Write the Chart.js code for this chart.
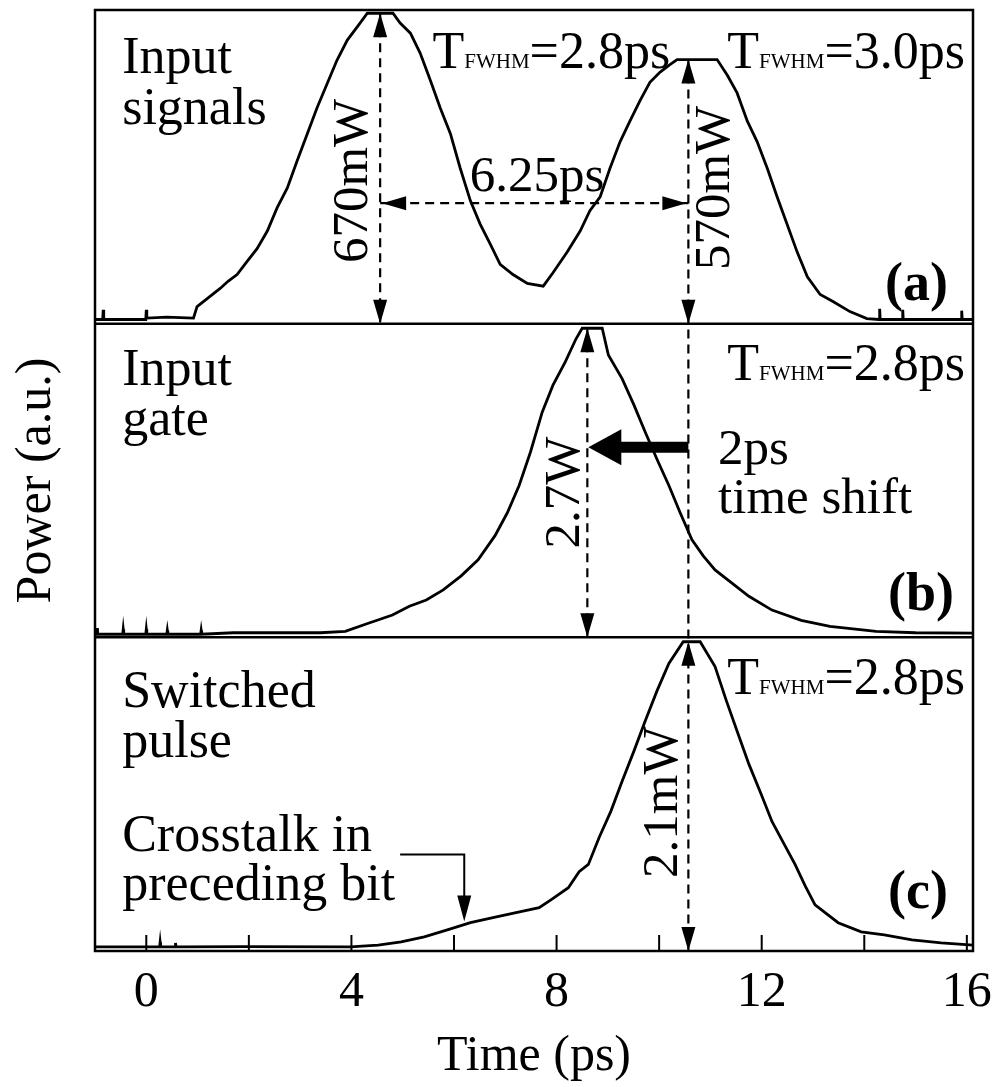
<!DOCTYPE html>
<html>
<head>
<meta charset="utf-8">
<script src="https://cdn.jsdelivr.net/npm/chart.js@4.4.0/dist/chart.umd.min.js"></script>
<style>
  html, body { margin: 0; padding: 0; background: #fff; }
  canvas { display: block; }
</style>
</head>
<body>
<canvas id="c" width="997" height="1087"></canvas>
<script>
// ---- data (time in ps, power per panel) ----
const timeA = [-1.0, -0.85, -0.84, -0.83, -0.01, 0.0, 0.01, 0.4, 0.92, 0.99, 1.2, 1.44, 1.6, 1.77, 1.97, 2.16, 2.36, 2.55, 2.75, 2.94, 3.14, 3.33, 3.53, 3.72, 3.92, 4.11, 4.31, 4.81, 4.95, 5.15, 5.34, 5.54, 5.73, 5.93, 6.12, 6.32, 6.51, 6.71, 6.90, 7.15, 7.43, 7.74, 7.93, 8.21, 8.46, 8.65, 8.85, 9.04, 9.24, 9.43, 9.63, 9.82, 10.02, 10.21, 10.35, 11.13, 11.33, 11.52, 11.72, 11.91, 12.11, 12.30, 12.50, 12.69, 12.89, 13.14, 13.39, 13.72, 14.05, 14.29, 14.3, 14.31, 14.74, 14.75, 14.76, 15.89, 15.9, 15.91, 16.12];
const powerA = [9, 9, 30, 9, 9, 30, 12, 14, 12, 37, 55, 76, 92, 106, 135, 162, 200, 250, 293, 351, 410, 466, 519, 569, 612, 640, 670, 670, 649, 627, 584, 525, 466, 410, 336, 265, 215, 171, 128, 106, 87, 81, 110, 155, 200, 244, 274, 335, 393, 437, 482, 521, 543, 559, 570, 570, 536, 498, 437, 393, 335, 274, 213, 155, 101, 63, 48, 26, 11, 9, 32, 9, 9, 30, 9, 9, 28, 9, 9];

const timeB = [-1.0, -0.97, -0.96, -0.95, -0.46, -0.45, -0.44, -0.01, 0.0, 0.01, 0.40, 0.41, 0.42, 1.06, 1.07, 1.08, 1.7, 3.4, 3.88, 4.33, 4.80, 5.13, 5.46, 5.79, 6.14, 6.47, 6.80, 7.04, 7.27, 7.49, 7.72, 7.93, 8.17, 8.38, 8.50, 8.89, 9.01, 9.28, 9.51, 9.73, 9.96, 10.19, 10.41, 10.64, 10.86, 11.09, 11.42, 11.75, 12.20, 12.77, 13.33, 14.23, 15.0, 16.12];
const powerB = [0.027, 0.027, 0.08, 0.027, 0.027, 0.07, 0.027, 0.027, 0.07, 0.027, 0.027, 0.06, 0.027, 0.027, 0.06, 0.027, 0.04, 0.04, 0.052, 0.123, 0.195, 0.271, 0.326, 0.414, 0.537, 0.677, 0.888, 1.088, 1.326, 1.617, 1.967, 2.203, 2.406, 2.608, 2.70, 2.70, 2.466, 2.258, 2.028, 1.792, 1.554, 1.326, 1.088, 0.852, 0.712, 0.589, 0.474, 0.359, 0.238, 0.148, 0.096, 0.052, 0.04, 0.036];

const timeC = [-1.0, 0.26, 0.27, 0.28, 0.56, 0.57, 0.58, 1.9, 3.98, 4.52, 4.97, 5.42, 5.87, 6.32, 6.76, 7.21, 7.66, 7.89, 8.23, 8.44, 8.62, 8.83, 9.06, 9.28, 9.51, 9.73, 9.96, 10.19, 10.47, 10.80, 11.09, 11.31, 11.54, 11.75, 11.99, 12.20, 12.44, 12.65, 12.85, 13.04, 13.49, 13.94, 14.39, 14.93, 15.50, 16.12];
const powerC = [0.028, 0.028, 0.06, 0.028, 0.028, 0.055, 0.028, 0.03, 0.028, 0.040, 0.062, 0.096, 0.143, 0.192, 0.226, 0.260, 0.294, 0.347, 0.430, 0.539, 0.588, 0.771, 0.950, 1.154, 1.359, 1.563, 1.768, 1.953, 2.10, 2.10, 1.932, 1.700, 1.474, 1.269, 1.065, 0.880, 0.724, 0.588, 0.440, 0.313, 0.192, 0.130, 0.109, 0.075, 0.055, 0.040];

// axis ticks
const xTickLabels = [0, 4, 8, 12, 16];
const xInnerTicks = [0, 2, 4, 6, 8, 10, 12, 14, 16];

// pulse markers
const peakA1 = 670;   // mW, first signal
const peakA2 = 570;   // mW, second signal
const peakGate = 2.7; // W
const peakOut = 2.1;  // mW
const tSig1 = 4.56, tSig2 = 10.57, tGate = 8.6;

const SERIF = '"Liberation Serif", "Times New Roman", serif';
Chart.defaults.font.family = SERIF;
Chart.defaults.color = '#000';

function toPoints(ts, vs) { return ts.map((t, i) => ({ x: t, y: vs[i] })); }

function panelAxis(max, weight, withTitle) {
  return {
    type: 'linear', position: 'left', stack: 'panels', stackWeight: 1, weight: weight,
    min: 0, max: max,
    grid: { display: false }, border: { display: false },
    ticks: { display: false },
    title: withTitle
      ? { display: true, text: 'Power (a.u.)', font: { size: 50 }, color: '#000', padding: { top: 7, bottom: 20 } }
      : { display: false }
  };
}

function head(ctx, x, y, dx, dy, len, half) {
  const bx = x - dx * len, by = y - dy * len;
  ctx.beginPath();
  ctx.moveTo(x, y);
  ctx.lineTo(bx - dy * half, by + dx * half);
  ctx.lineTo(bx + dy * half, by - dx * half);
  ctx.closePath();
  ctx.fill();
}

function line(ctx, x1, y1, x2, y2) {
  ctx.beginPath(); ctx.moveTo(x1, y1); ctx.lineTo(x2, y2); ctx.stroke();
}

function text(ctx, str, x, y, size, align, bold) {
  ctx.font = (bold ? 'bold ' : '') + size + 'px ' + SERIF;
  ctx.textAlign = align || 'left';
  ctx.textBaseline = 'alphabetic';
  ctx.fillText(str, x, y);
}

function vtext(ctx, str, x, y, size) {
  ctx.save();
  ctx.translate(x, y);
  ctx.rotate(-Math.PI / 2);
  ctx.font = size + 'px ' + SERIF;
  ctx.textAlign = 'center';
  ctx.textBaseline = 'middle';
  ctx.fillText(str, 0, 0);
  ctx.restore();
}

function fwhm(ctx, x, y, value) {
  ctx.textAlign = 'left'; ctx.textBaseline = 'alphabetic';
  ctx.font = '52px ' + SERIF; ctx.fillText('T', x, y);
  x += ctx.measureText('T').width;
  ctx.font = '21px ' + SERIF; ctx.fillText('FWHM', x, y);
  x += ctx.measureText('FWHM').width;
  ctx.font = '52px ' + SERIF; ctx.fillText('=' + value, x, y);
}

// frame, panel separators, arrows and annotations
const decor = {
  id: 'decor',
  afterDatasetsDraw(chart) {
    const { ctx, chartArea: a, scales: s } = chart;
    const X = t => s.x.getPixelForValue(t);
    const Y = (id, v) => s[id].getPixelForValue(v);
    ctx.save();
    ctx.strokeStyle = '#000'; ctx.fillStyle = '#000';

    ctx.lineWidth = 2.5;
    ctx.strokeRect(a.left, a.top, a.right - a.left, a.bottom - a.top);
    line(ctx, a.left, s.yB.top, a.right, s.yB.top);
    line(ctx, a.left, s.yC.top, a.right, s.yC.top);

    ctx.lineWidth = 2;
    xInnerTicks.forEach(t => line(ctx, X(t), s.yC.bottom, X(t), s.yC.bottom - 16));

    // dashed markers
    const L = 24, H = 7;
    ctx.lineWidth = 2.2;
    ctx.setLineDash([9, 6]);
    line(ctx, X(tSig1), Y('yA', peakA1), X(tSig1), Y('yA', 0));
    line(ctx, X(tSig2), Y('yA', peakA2), X(tSig2), Y('yC', 0));
    line(ctx, X(tSig1), Y('yA', 260), X(tSig2), Y('yA', 260));
    line(ctx, X(tGate), Y('yB', peakGate), X(tGate), Y('yB', 0));
    ctx.setLineDash([]);

    head(ctx, X(tSig1), Y('yA', peakA1), 0, -1, L, H);
    head(ctx, X(tSig1), Y('yA', 0), 0, 1, L, H);
    head(ctx, X(tSig2), Y('yA', peakA2), 0, -1, L, H);
    head(ctx, X(tSig2), Y('yA', 0), 0, 1, L, H);
    head(ctx, X(tSig1) + 2, Y('yA', 260), -1, 0, L, H);
    head(ctx, X(tSig2) - 2, Y('yA', 260), 1, 0, L, H);
    head(ctx, X(tGate), Y('yB', peakGate), 0, -1, L, H);
    head(ctx, X(tGate), Y('yB', 0), 0, 1, L, H);
    head(ctx, X(tSig2), Y('yC', peakOut), 0, -1, L, H);
    head(ctx, X(tSig2), Y('yC', 0), 0, 1, L, H);

    // 2 ps shift arrow
    const yShift = Y('yB', 1.66);
    ctx.lineWidth = 11;
    line(ctx, X(tSig2), yShift, X(tGate) + 30, yShift);
    head(ctx, X(tGate) + 1, yShift, -1, 0, 33, 18);

    // crosstalk pointer
    ctx.lineWidth = 2;
    ctx.beginPath();
    ctx.moveTo(X(4.95), Y('yC', 0.655));
    ctx.lineTo(X(6.2), Y('yC', 0.655));
    ctx.lineTo(X(6.2), Y('yC', 0.2) - 20);
    ctx.stroke();
    head(ctx, X(6.2), Y('yC', 0.2), 0, 1, 26, 7);

    // panel (a)
    text(ctx, 'Input', X(-0.47), Y('yA', 542), 52);
    text(ctx, 'signals', X(-0.47), Y('yA', 432), 52);
    fwhm(ctx, X(5.58), Y('yA', 551), '2.8ps');
    fwhm(ctx, X(11.33), Y('yA', 551), '3.0ps');
    text(ctx, '6.25ps', X(7.62), Y('yA', 286), 51, 'center');
    vtext(ctx, peakA1 + 'mW', X(4.05), Y('yA', 308), 51);
    vtext(ctx, peakA2 + 'mW', X(11.11), Y('yA', 293), 51);
    text(ctx, '(a)', X(15.63), Y('yA', 52), 54, 'right', true);

    // panel (b)
    text(ctx, 'Input', X(-0.47), Y('yB', 2.204), 52);
    text(ctx, 'gate', X(-0.47), Y('yB', 1.765), 52);
    fwhm(ctx, X(11.33), Y('yB', 2.248), '2.8ps');
    text(ctx, '2ps', X(11.15), Y('yB', 1.51), 51);
    text(ctx, 'time shift', X(11.15), Y('yB', 1.089), 51);
    vtext(ctx, peakGate + 'W', X(8.17), Y('yB', 1.265), 51);
    text(ctx, '(b)', X(15.75), Y('yB', 0.237), 54, 'right', true);

    // panel (c)
    text(ctx, 'Switched', X(-0.47), Y('yC', 1.659), 52);
    text(ctx, 'pulse', X(-0.47), Y('yC', 1.318), 52);
    fwhm(ctx, X(11.33), Y('yC', 1.748), '2.8ps');
    text(ctx, 'Crosstalk in', X(-0.47), Y('yC', 0.676), 52);
    text(ctx, 'preceding bit', X(-0.47), Y('yC', 0.348), 52);
    vtext(ctx, peakOut + 'mW', X(10.08), Y('yC', 1.01), 51);
    text(ctx, '(c)', X(15.63), Y('yC', 0.294), 54, 'right', true);

    ctx.restore();
  }
};

new Chart(document.getElementById('c'), {
  type: 'line',
  data: {
    datasets: [
      { label: 'Input signals', data: toPoints(timeA, powerA), yAxisID: 'yA' },
      { label: 'Input gate', data: toPoints(timeB, powerB), yAxisID: 'yB' },
      { label: 'Switched pulse', data: toPoints(timeC, powerC), yAxisID: 'yC' }
    ]
  },
  options: {
    responsive: false,
    animation: false,
    devicePixelRatio: 1,
    layout: { padding: { top: 10, right: 24, bottom: 0, left: 0 } },
    plugins: { legend: { display: false }, tooltip: { enabled: false } },
    elements: {
      point: { radius: 0 },
      line: { borderColor: '#000', borderWidth: 2.8, tension: 0, fill: false }
    },
    scales: {
      x: {
        type: 'linear', min: -1, max: 16.12,
        grid: { display: false }, border: { display: false },
        afterBuildTicks: sc => { sc.ticks = xTickLabels.map(v => ({ value: v })); },
        ticks: { font: { size: 50 }, color: '#000', padding: 4, maxRotation: 0, autoSkip: false },
        title: { display: true, text: 'Time (ps)', font: { size: 50 }, color: '#000', padding: { top: 0, bottom: 0 } }
      },
      yA: panelAxis(677, 3, false),
      yB: panelAxis(2.74, 2, true),
      yC: panelAxis(2.13, 1, false)
    }
  },
  plugins: [decor]
});
</script>
</body>
</html>
